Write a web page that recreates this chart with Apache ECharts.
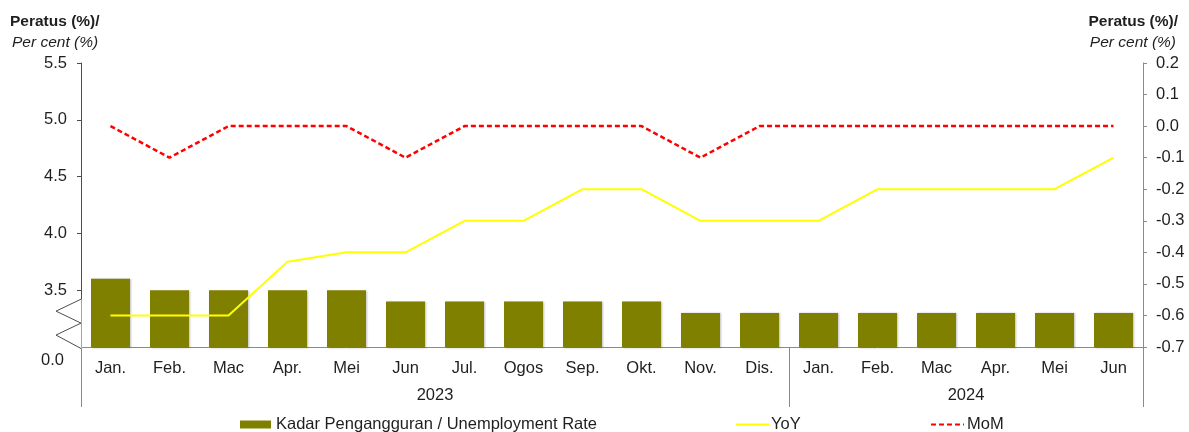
<!DOCTYPE html>
<html>
<head>
<meta charset="utf-8">
<script src="https://cdn.jsdelivr.net/npm/echarts@6/dist/echarts.min.js"></script>
<style>
  html, body { margin: 0; padding: 0; background: #fff; }
  #chart { width: 1189px; height: 432px; }
</style>
</head>
<body>
<div id="chart"></div>
<script>
// Monthly labour force figures, Jan 2023 - Jun 2024
const months = ['Jan.', 'Feb.', 'Mac', 'Apr.', 'Mei', 'Jun', 'Jul.', 'Ogos', 'Sep.', 'Okt.', 'Nov.', 'Dis.',
                'Jan.', 'Feb.', 'Mac', 'Apr.', 'Mei', 'Jun'];
const years = [{ label: '2023', start: 0, end: 12 }, { label: '2024', start: 12, end: 18 }];
const unemploymentRate = [3.6, 3.5, 3.5, 3.5, 3.5, 3.4, 3.4, 3.4, 3.4, 3.4, 3.3, 3.3, 3.3, 3.3, 3.3, 3.3, 3.3, 3.3];
const yoyChange = [-0.6, -0.6, -0.6, -0.43, -0.4, -0.4, -0.3, -0.3, -0.2, -0.2, -0.3, -0.3, -0.3, -0.2, -0.2, -0.2, -0.2, -0.1];
const momChange = [0.0, -0.1, 0.0, 0.0, 0.0, -0.1, 0.0, 0.0, 0.0, 0.0, -0.1, 0.0, 0.0, 0.0, 0.0, 0.0, 0.0, 0.0];
const leftTicks = { min: 3.0, max: 5.5, step: 0.5 };
const rightTicks = { min: -0.7, max: 0.2, step: 0.1 };

const FONT = '"Liberation Sans", Arial, sans-serif';
const FS = 16.5;
const TEXT = '#1f1f1f';
const GREY = '#8a8a8a';

const seriesNames = ['Kadar Pengangguran / Unemployment Rate', 'YoY', 'MoM'];

const chart = echarts.init(document.getElementById('chart'), null, { renderer: 'canvas' });

const yearMid = years.map(y => (y.start + y.end) / 2);
const yearEdges = [0].concat(years.map(y => y.end));

const titleRich = align => ({
  b: { fontFamily: FONT, fontSize: 15.5, fontWeight: 'bold', fontStyle: 'normal', color: TEXT, lineHeight: 21, align },
  i: { fontFamily: FONT, fontSize: 15.5, fontWeight: 'normal', fontStyle: 'italic', color: TEXT, lineHeight: 21, align,
       padding: align === 'left' ? [0, 0, 0, 2] : [0, 2, 0, 0] }
});

const lineLegendStyle = {
  color: 'rgba(0,0,0,0)', borderColor: 'rgba(0,0,0,0)', borderWidth: 0
};

const option = {
  animation: false,
  textStyle: { fontFamily: FONT, color: TEXT },
  title: [
    {
      left: 10, top: 11, padding: 0,
      text: '{b|Peratus (%)/}\n{i|Per cent (%)}',
      textStyle: { fontWeight: 'normal', rich: titleRich('left') }
    },
    {
      right: 11, top: 11, padding: 0,
      text: '{b|Peratus (%)/}\n{i|Per cent (%)}',
      textStyle: { fontWeight: 'normal', align: 'right', rich: titleRich('right') }
    }
  ],
  grid: { left: 81, right: 46, top: 63, bottom: 85, containLabel: false },
  legend: [
    {
      left: 235, top: 411, data: [seriesNames[0]], icon: 'rect',
      itemWidth: 31, itemHeight: 8, itemGap: 0,
      textStyle: { fontFamily: FONT, fontSize: FS, color: TEXT }
    },
    {
      left: 730, top: 411, data: [seriesNames[1]],
      itemWidth: 33, itemHeight: 14, itemGap: 0,
      itemStyle: lineLegendStyle,
      textStyle: { fontFamily: FONT, fontSize: FS, color: TEXT, padding: [0, 0, 0, -3] }
    },
    {
      left: 925, top: 411, data: [seriesNames[2]],
      itemWidth: 33, itemHeight: 14, itemGap: 0,
      itemStyle: lineLegendStyle,
      textStyle: { fontFamily: FONT, fontSize: FS, color: TEXT, padding: [0, 0, 0, -2] }
    }
  ],
  xAxis: [
    {
      type: 'category',
      data: months,
      boundaryGap: true,
      axisLine: { show: true, onZero: false, lineStyle: { color: GREY, width: 1 } },
      axisTick: { show: false },
      axisLabel: { margin: 13, fontFamily: FONT, fontSize: FS, color: TEXT, interval: 0 },
      splitLine: { show: false }
    },
    {
      // year grouping row beneath the month labels
      type: 'value',
      position: 'bottom',
      min: 0, max: months.length,
      axisLine: { show: false, onZero: false },
      splitLine: { show: false },
      axisTick: {
        show: true, customValues: yearEdges, length: 60, inside: false,
        lineStyle: { color: GREY, width: 1 }
      },
      axisLabel: {
        show: true, customValues: yearMid, margin: 40,
        fontFamily: FONT, fontSize: FS, color: TEXT,
        formatter: v => {
          const y = years.find(yr => (yr.start + yr.end) / 2 === v);
          return y ? y.label : '';
        }
      }
    }
  ],
  yAxis: [
    {
      type: 'value',
      min: leftTicks.min, max: leftTicks.max, interval: leftTicks.step,
      position: 'left',
      axisLine: { show: true, lineStyle: { color: '#4d4d4d', width: 1 } },
      axisTick: { show: true, length: 4, lineStyle: { color: '#4d4d4d' } },
      splitLine: { show: false },
      axisLabel: {
        margin: 14, fontFamily: FONT, fontSize: FS, color: TEXT,
        formatter: v => Math.abs(v - leftTicks.min) < 1e-9 ? '{z|0.0}' : v.toFixed(1),
        rich: { z: { fontFamily: FONT, fontSize: FS, color: TEXT, padding: [26, 3, 0, 0] } }
      }
    },
    {
      type: 'value',
      min: rightTicks.min, max: rightTicks.max, interval: rightTicks.step,
      position: 'right',
      axisLine: { show: true, lineStyle: { color: GREY, width: 1 } },
      axisTick: { show: true, length: 4, lineStyle: { color: GREY } },
      splitLine: { show: false },
      axisLabel: {
        margin: 13, fontFamily: FONT, fontSize: FS, color: TEXT,
        formatter: v => v.toFixed(1)
      }
    }
  ],
  series: [
    {
      name: seriesNames[0],
      type: 'bar',
      xAxisIndex: 0, yAxisIndex: 0,
      data: unemploymentRate,
      barWidth: 39,
      itemStyle: { color: '#808000', shadowBlur: 2, shadowColor: 'rgba(0,0,0,0.25)', shadowOffsetX: 0.5, shadowOffsetY: 0.5 },
      z: 2
    },
    {
      name: seriesNames[1],
      type: 'line',
      xAxisIndex: 0, yAxisIndex: 1,
      data: yoyChange,
      symbol: 'none',
      lineStyle: { color: '#ffff00', width: 2 },
      itemStyle: { color: '#ffff00' },
      z: 3
    },
    {
      name: seriesNames[2],
      type: 'line',
      xAxisIndex: 0, yAxisIndex: 1,
      data: momChange,
      symbol: 'none',
      lineStyle: { color: '#ff0000', width: 2.5, type: [5, 3] },
      itemStyle: { color: '#ff0000' },
      z: 3
    }
  ]
};

chart.setOption(option);

// Broken-axis marker between the 3.5 tick and the base line.
function drawAxisBreak() {
  const x0 = chart.convertToPixel({ xAxisIndex: 1 }, 0);
  const yTop = chart.convertToPixel({ yAxisIndex: 0 }, 3.5) + 9;
  const yBase = chart.convertToPixel({ yAxisIndex: 0 }, leftTicks.min);
  const h = yBase - yTop;
  const w = 25;
  chart.setOption({
    graphic: [
      {
        type: 'rect', silent: true, z: 50,
        shape: { x: x0 - 6, y: yTop, width: 6.5, height: h + 1 },
        style: { fill: '#fff' }
      },
      {
        type: 'polyline', silent: true, z: 51,
        shape: {
          points: [
            [x0, yTop], [x0 - w, yTop + h * 0.25], [x0, yTop + h * 0.5],
            [x0 - w, yTop + h * 0.75], [x0, yTop + h + 1.5]
          ]
        },
        style: { stroke: '#4d4d4d', lineWidth: 1, fill: null }
      }
    ]
  });
}
drawAxisBreak();
</script>
</body>
</html>
